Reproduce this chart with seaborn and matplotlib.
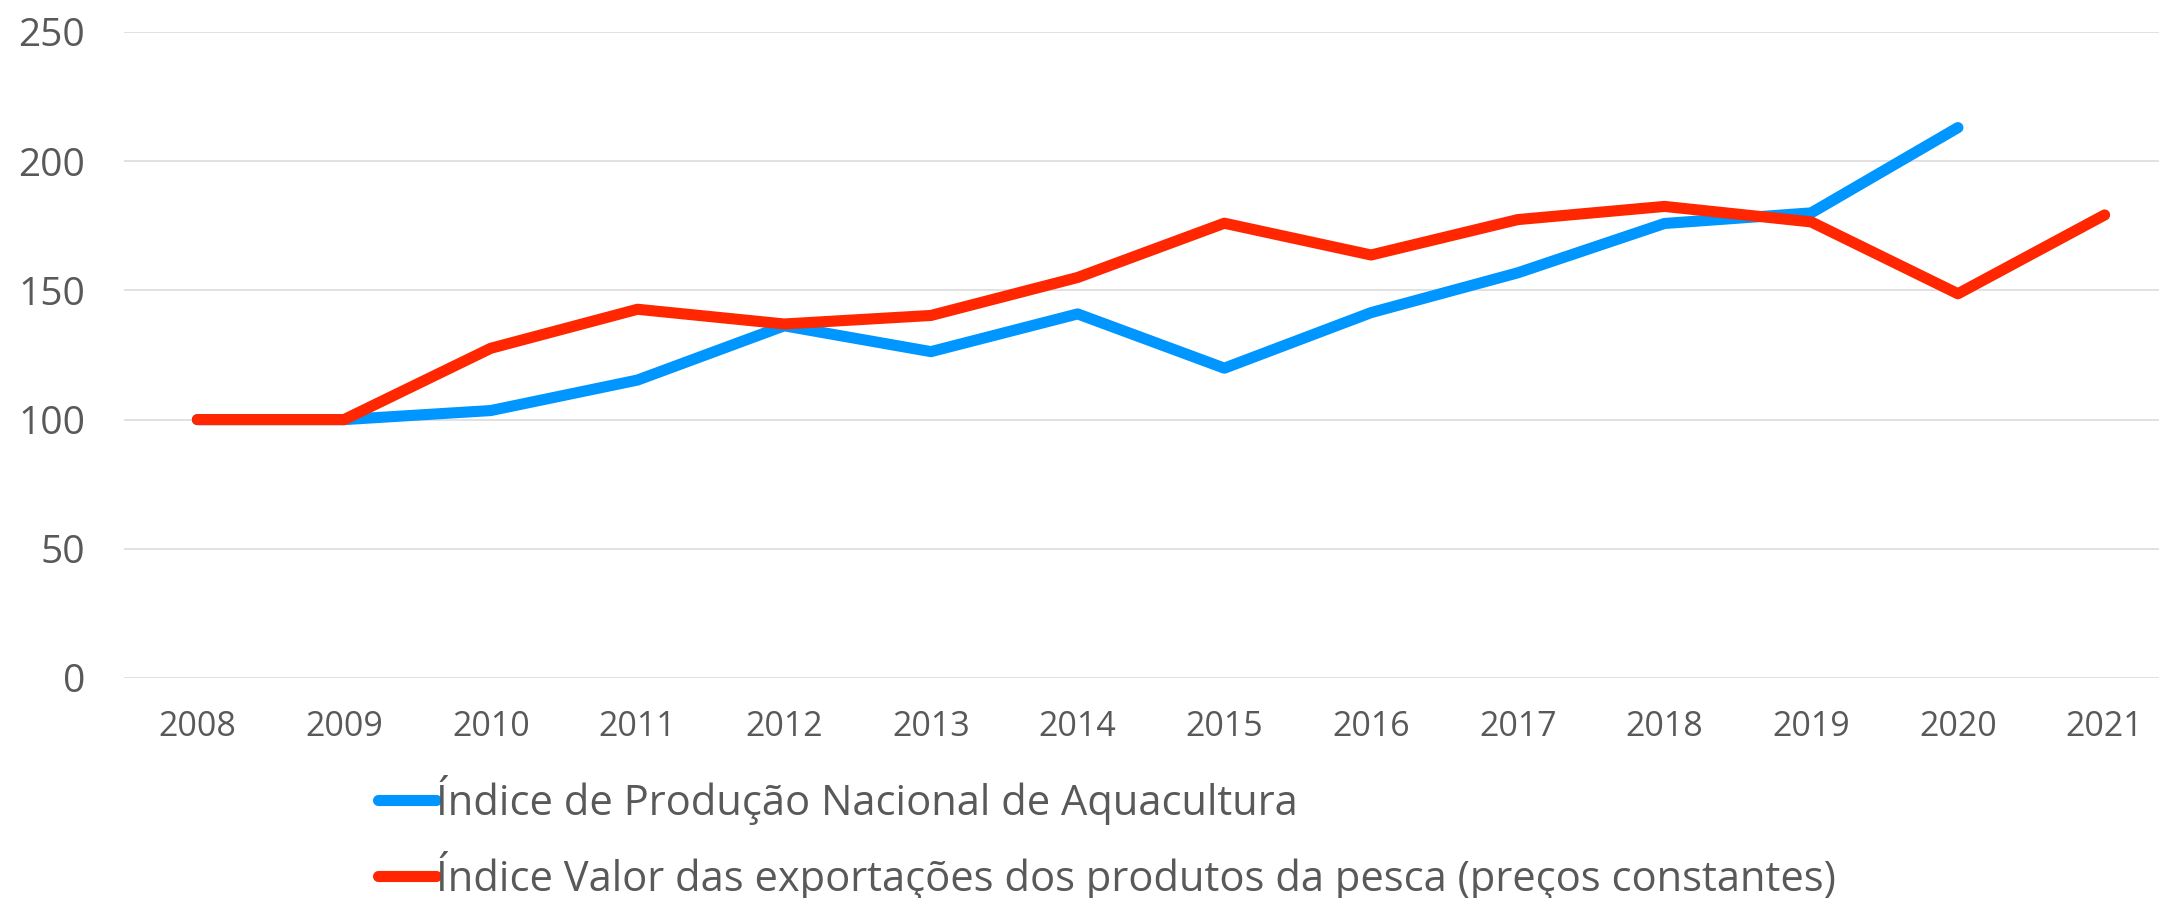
import matplotlib
matplotlib.use('Agg')
import matplotlib.pyplot as plt
import pandas as pd
import seaborn as sns
from matplotlib.lines import Line2D

years = list(range(2008, 2022))
aquacultura = [100, 100, 103.5, 115.3, 136.3, 126.3, 140.9, 119.9, 141.4, 156.8, 175.9, 180, 213, None]
exportacoes = [100, 100, 127.6, 142.7, 137, 140.3, 155, 176, 163.7, 177.4, 182.5, 176.5, 148.7, 179.2]

label_aqua = 'Índice de Produção Nacional de Aquacultura'
label_exp = 'Índice Valor das exportações dos produtos da pesca (preços constantes)'
colors = {label_aqua: '#0096FF', label_exp: '#FF2600'}
text_grey = '#595959'

df = pd.concat([
    pd.DataFrame({'ano': years, 'indice': aquacultura, 'serie': label_aqua}),
    pd.DataFrame({'ano': years, 'indice': exportacoes, 'serie': label_exp}),
]).dropna()

sns.set_style('white')
plt.rcParams['font.family'] = ['Open Sans', 'DejaVu Sans']

fig = plt.figure(figsize=(21.59, 8.98), dpi=100)
ax = fig.add_axes([124 / 2159, 1 - 678 / 898, 2054 / 2159, 646 / 898])

sns.lineplot(data=df, x='ano', y='indice', hue='serie', palette=colors, linewidth=8,
             solid_capstyle='round', legend=False, ax=ax)

ax.set_xlim(2007.5, 2021.5)
ax.set_ylim(0, 250)
ax.set_xticks(years)
ax.set_yticks(range(0, 251, 50))
ax.yaxis.grid(True, color='#D9D9D9', linewidth=1.1)
ax.set_axisbelow(True)
for s in ax.spines.values():
    s.set_visible(False)
ax.tick_params(axis='y', length=0, pad=28, labelsize=28, labelcolor=text_grey)
ax.tick_params(axis='x', length=0, pad=23, labelsize=24.5, labelcolor=text_grey)
ax.set_xlabel('')
ax.set_ylabel('')

# legenda em baixo, duas linhas
handles = [Line2D([], [], color=colors[k], linewidth=8, solid_capstyle='round') for k in colors]
fig.legend(handles, list(colors), loc='upper left', bbox_to_anchor=(357 / 2159, 1 - 754 / 898),
           frameon=False, handlelength=1.39, handletextpad=0.0, labelspacing=0.62,
           prop={'size': 30}, labelcolor=text_grey, borderpad=0)

fig.savefig('out.png', dpi=100)
